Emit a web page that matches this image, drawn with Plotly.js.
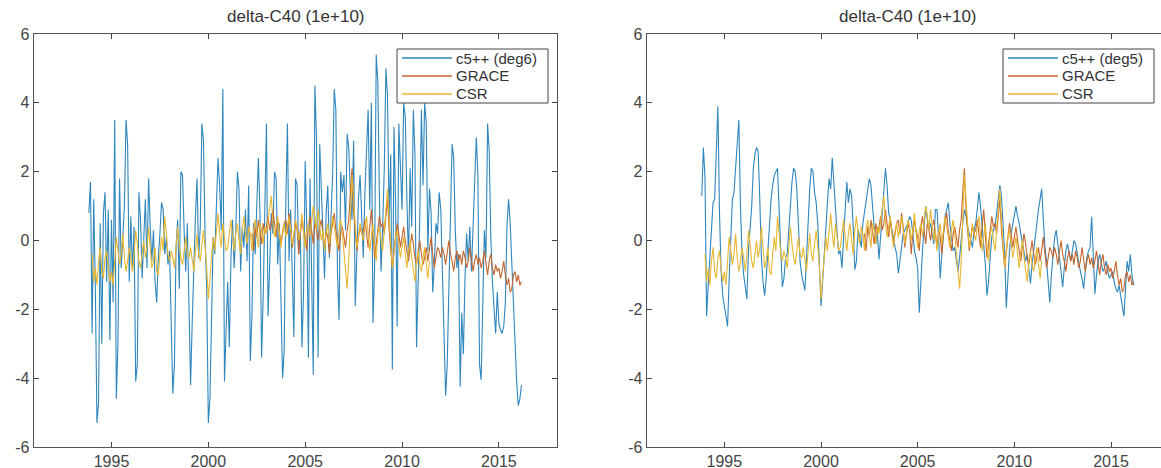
<!DOCTYPE html>
<html>
<head>
<meta charset="utf-8">
<script src="https://cdn.plot.ly/plotly-3.0.1.min.js"></script>
<style>
html,body{margin:0;padding:0;overflow:hidden;background:#fff;}
#chart{width:1180px;height:468px;}
</style>
</head>
<body>
<div id="chart"></div>
<script>
// ---- DATA (monthly values) ----
// c5++ series start: Nov 1993, end: Mar 2016
var c5Start = [1993, 11];
var c5deg6 = [
 0.8, 1.7,
 -2.7, 1.2, -1.4, -5.3, -4.7, 0.5, -3.0, 0.8, 1.4, -1.2, 0.9, -2.9,
 0.6, -1.8, 3.5, -4.6, -3.0, 1.8, -0.8, 0.3, 1.0, 3.5, 2.8, -1.2,
 0.7, -0.9, 0.4, -4.1, -3.6, 1.4, 0.6, -1.1, 0.2, 1.2, -0.8, 1.8,
 0.4, -0.6, 0.3, -1.2, -1.8, -0.5, 0.2, 1.1, 0.9, -0.4, 0.1, -0.7,
 -0.3, -2.4, -4.45, -3.6, -0.2, 0.6, -1.4, 2.0, 1.9, 0.3, -0.9, 0.5,
 -1.8, -4.2, -2.4, -0.6, 0.7, 1.8, -0.5, 0.4, 3.4, 2.9, 0.1, -1.4,
 -5.3, -4.6, -1.9, 0.1, -0.4, 0.8, 2.4, 1.6, 0.3, 4.4, -4.1, -2.6,
 -1.2, -3.1, -0.5, 0.6, -0.8, 0.3, 2.0, 1.5, -0.9, 0.4, -0.2, 0.9,
 -0.6, 1.6, -3.5, -2.2, 0.5, -0.4, 1.2, 2.4, 0.8, -3.4, -1.6, 0.7,
 3.4, -2.2, -0.9, 0.8, 0.2, 2.0, 1.8, -0.7, 0.5, -1.9, -4.0, -3.2,
 1.1, 3.4, -0.6, 0.9, -1.2, -2.8, 1.8, 1.6, -0.4, 0.3, -3.1, -1.5,
 2.3, 0.4, -3.4, 1.8, -1.0, -3.9, 4.5, 3.0, -3.4, 2.8, 1.5, 0.2,
 -1.1, 0.8, 1.6, -0.5, 0.6, 1.9, 4.4, 3.8, -0.9, -2.3, 2.0, 1.4,
 1.9, 0.3, 3.1, 2.7, 1.4, 0.6, 2.9, -1.9, -0.4, 1.2, 1.9, 0.8,
 -0.5, 1.4, 2.6, 3.8, 0.9, 4.0, -2.4, -0.8, 5.4, 4.6, 1.2, -0.9,
 0.4, 2.1, 5.0, 4.2, 0.6, 2.5, -3.75, 3.3, 1.1, -2.5, 3.4, 2.2,
 0.9, 4.0, 3.6, 1.2, -0.6, 2.1, 0.4, 3.8, 2.5, -3.1, -1.1, 0.7,
 3.8, 1.6, 4.0, 3.4, -0.3, 1.5, 0.8, -1.5, -0.7, 0.5, 0.2, 1.4,
 0.9, -1.2, -3.3, -4.5, -3.6, -0.9, 0.7, 2.8, 2.4, 0.3, -0.8, -0.4,
 -4.25, -2.1, -3.3, -1.1, 0.2, -0.6, 0.4, -0.9, 0.6, 2.1, 3.0, 1.9,
 -3.6, -4.05, -1.7, 0.3, -0.5, 3.4, 2.6, 0.1, -1.2, -2.0, -2.7, -1.5,
 -2.4, -2.6, -2.7, -2.5, -1.8, 0.4, 1.2, 0.5, -0.6, -1.9, -3.2, -4.1,
 -4.8, -4.6, -4.2
];
var c5deg5 = [
 1.3, 2.7,
 1.8, -2.2, -1.3, -0.4, 0.3, 1.1, 1.2, 2.7, 3.9, 0.8, -0.9, -1.6,
 -1.9, -2.2, -2.5, -1.1, 0.0, 1.2, 1.4, 2.1, 3.1, 3.5, 1.0, -0.4,
 -1.0, -1.4, -1.7, -0.3, 0.4, 1.0, 2.1, 2.5, 2.7, 2.6, 1.2, -0.5,
 -1.2, -1.6, -1.1, -0.2, 0.6, 1.2, 1.6, 1.9, 2.0, 2.1, 0.9, -0.3,
 -1.35, -1.1, -0.5, -0.4, 0.3, 1.1, 1.7, 2.1, 2.0, 1.5, 0.4, -0.6,
 -1.0, -1.2, -1.45, -0.5, 0.6, 1.5, 2.1, 2.0, 1.4, 1.1, 0.5, -0.8,
 -1.9, -1.2, -0.3, 0.5, 1.1, 1.8, 1.5, 2.4, 1.6, 0.9, 0.2, -0.4,
 -0.3, -0.8, 0.2, 0.9, 1.7, 1.1, 1.5, 1.3, 0.4, -0.85, -0.6, 0.3,
 0.1, -0.2, 0.5, 0.8, 1.2, 1.5, 1.8, 1.6, 0.9, 0.4, -0.1, 0.2,
 -0.55, 0.1, 0.8, 1.4, 2.1, 1.6, 0.8, 0.6, 0.3, 0.1, -0.2, -0.4,
 -0.95, -0.6, -0.1, 0.2, 0.3, 0.4, 0.5, 0.7, 0.6, 0.2, -0.3, -0.5,
 -0.8, -2.1, -1.0, -0.3, 0.4, 1.0, 0.6, 0.3, 0.5, 0.2, -0.1, 0.9,
 0.9, 0.1, -1.1, -0.4, 0.3, 0.7, 0.9, 1.1, 0.5, 0.1, -0.3, -0.2,
 -0.6, -0.9, -0.5, 0.1, 0.5, 0.9, 0.7, 0.4, 0.2, 0.0, -0.2, 0.3,
 0.5, 0.9, 1.4, 1.0, 0.4, -0.2, -0.7, -1.6, -1.2, -0.5, 0.1, 0.3,
 0.4, 0.8, 1.2, 1.6, 1.3, 0.6, -0.4, -1.95, -1.1, -0.3, 0.2, 0.5,
 0.8, 1.0, 0.7, 0.5, 0.2, -0.1, -0.3, -0.6, -0.4, -0.9, -1.25, -0.7,
 -0.3, 0.2, 0.5, 0.9, 1.2, 1.5, 0.6, -0.2, -0.6, -1.1, -1.8, -1.0,
 -0.4, 0.1, 0.3, -0.2, -0.5, -0.9, -1.35, -0.8, -0.3, -0.1, -0.4, -0.6,
 -0.3, 0.0, -0.1, -0.4, -0.6, -0.9, -1.1, -1.4, -0.9, -0.5, -0.3, -0.2,
 0.7, -0.6, -1.55, -1.0, -0.6, -0.4, -0.7, -0.9, -0.8, -0.6, -0.9, -1.1,
 -1.0, -0.9, -1.2, -1.4, -1.5, -1.3, -1.6, -1.9, -2.2, -1.4, -0.6, -0.9,
 -0.4, -1.0, -1.3
];
// GRACE start: Apr 2002
var graceStart = [2002, 4];
var grace = [
 0.2, -0.3, 0.4, 0.1, 0.6, 0.3, -0.1, 0.5, 0.2,
 0.4, 0.7, 0.3, 0.5, 0.9, 0.4, 0.1, 0.6, 0.3, -0.1, 0.2, 0.5,
 0.6, 0.2, 0.8, 0.4, -0.2, 0.1, 0.5, 0.3, -0.4, 0.2, 0.6, 0.3,
 0.1, -0.3, 0.4, 0.7, 0.2, -0.1, 0.5, 0.3, 0.0, 0.4, 0.6, 0.2,
 -0.2, 0.3, 0.1, -0.4, 0.2, 0.5, 0.8, 0.3, 0.0, -0.3, 0.2, 0.4,
 0.1, -0.2, 0.3, 0.6, 1.4, 2.1, 0.9, 0.2, -0.3, 0.1, 0.4, 0.2,
 0.3, 0.6, 0.1, -0.2, 0.4, 0.9, 0.2, -0.5, -0.1, 0.3, 0.7, 0.4,
 0.5, 0.2, 0.8, 1.2, 0.3, -0.4, -0.8, -0.3, 0.1, 0.5, 0.2, -0.2,
 0.1, 0.4, 0.0, -0.3, -0.6, -0.2, 0.2, -0.1, -0.5, -0.7, -0.3, 0.0,
 -0.4, -0.7, -0.5, -0.2, -0.6, -0.3, 0.1, -0.4, -0.8, -0.5, -0.2, -0.3,
 -0.5, -0.2, -0.4, -0.7, -0.3, 0.0, -0.4, -0.6, -0.9, -0.5, -0.3, -0.6,
 -0.4, -0.7, -0.3, -0.5, -0.8, -0.6, -0.2, -0.5, -0.9, -0.6, -0.4, -0.7,
 -0.5, -0.8, -0.6, -0.3, -0.7, -1.0, -0.6, -0.4, -0.8, -1.0, -0.7, -0.9,
 -0.8, -1.1, -0.9, -0.6, -1.0, -1.3, -1.1, -1.5, -1.4, -1.0, -0.9, -1.2,
 -1.0, -1.3, -1.2
];
// CSR start: Jan 1994
var csrStart = [1994, 1];
var csr = [
 -0.4, -1.2, -0.8, -1.3, -0.6, -0.2, -0.9, -1.1, -0.5, -0.3, -0.8, -1.2,
 -0.9, -1.3, -0.6, 0.1, -0.3, -0.7, -0.4, 0.2, -0.5, -0.9, -0.6, -0.2,
 -0.5, -0.9, -0.4, 0.3, -0.1, -0.6, -0.8, -0.3, 0.0, -0.5, -0.2, 0.4,
 -0.3, -0.8, -0.6, -0.2, -0.9, -1.0, -0.4, 0.1, -0.3, 0.7, 0.2, -0.4,
 -0.6, -0.3, -0.5, -0.8, -0.2, 0.4, -0.1, -0.5, -0.7, -0.3, 0.1, -0.4,
 -0.5, -0.2, -0.6, -0.9, -0.3, 0.2, -0.4, -0.6, -0.1, 0.3, -0.2, -0.8,
 -1.7, -1.1, -0.4, 0.1, -0.3, 0.4, 0.8, 0.2, -0.2, 0.5, 0.1, -0.3,
 -0.2, 0.3, 0.6, 0.1, -0.3, 0.2, 0.5, 0.0, -0.4, 0.3, 0.7, 0.2,
 -0.1, 0.4, 0.2, -0.3, 0.3, 0.6, 0.1, -0.2, 0.5, 0.3, -0.1, 0.4,
 0.2, 0.6, 0.9, 1.3, 0.5, 0.1, 0.4, 0.7, 0.2, -0.2, 0.3, 0.5,
 0.1, 0.4, 0.7, 0.3, -0.1, 0.2, 0.6, 0.4, 0.0, 0.3, 0.8, 0.2,
 -0.2, 0.3, 0.5, 0.1, 0.6, 1.0, 0.7, 0.3, 0.9, 0.4, 0.0, 0.3,
 -0.3, 0.2, 0.5, -0.1, 0.3, 0.7, 0.4, 0.1, -0.2, 0.3, 0.6, 0.2,
 -0.4, -1.0, -1.4, -0.6, 0.8, 1.9, 1.2, 0.3, -0.2, 0.1, 0.5, 0.2,
 0.0, 0.4, 0.7, 0.2, -0.3, 0.1, 0.5, -0.2, -0.6, 0.2, 0.4, 0.0,
 -0.3, 0.3, 0.9, 1.5, 0.6, -0.2, -0.8, -0.4, 0.1, 0.3, -0.2, -0.5,
 -0.2, 0.1, -0.4, -0.8, -0.3, 0.0, -0.5, -0.9, -1.2, -0.6, -0.3, -0.7,
 -0.9, -0.5, -0.2, -0.7, -1.1, -0.6
];
var panelTitles = ['delta-C40 (1e+10)', 'delta-C40 (1e+10)'];
var seriesNames = [['c5++ (deg6)', 'GRACE', 'CSR'], ['c5++ (deg5)', 'GRACE', 'CSR']];
var xTicks = [1995, 2000, 2005, 2010, 2015];
var yTicks = [-6, -4, -2, 0, 2, 4, 6];
var yTickText = ['-6', '-4', '-2', '0', '2', '4', '6'];

// ---- helpers ----
function monthTimes(start, n) {
  var t = [];
  for (var i = 0; i < n; i++) t.push(start[0] + (start[1] - 1 + i) / 12);
  return t;
}

var W = 1180, H = 468;
var colors = ['#2f86bd', '#c4662f', '#e8b832'];
var fontFam = 'Liberation Sans, Arial, sans-serif';
var txtCol = '#454545';

var traces = [];
var panels = [
  {c5: c5deg6, xa: 'x', ya: 'y'},
  {c5: c5deg5, xa: 'x2', ya: 'y2'}
];
panels.forEach(function (p, k) {
  var sets = [[c5Start, p.c5], [graceStart, grace], [csrStart, csr]];
  sets.forEach(function (s, j) {
    traces.push({
      type: 'scatter', mode: 'lines',
      x: monthTimes(s[0], s[1].length), y: s[1],
      name: seriesNames[k][j],
      xaxis: p.xa, yaxis: p.ya, showlegend: false,
      line: {color: colors[j], width: 1.1},
      hoverinfo: 'skip'
    });
  });
});

function px(x) { return x / W; }
function py(y) { return 1 - y / H; }

var dom1 = [px(34), px(557)], dom2 = [px(647), px(1169)];
var ydom = [py(447), py(34)];

function xaxis(dom, anchor) {
  return {
    domain: dom, anchor: anchor, range: [1991, 2018],
    tickvals: xTicks, ticktext: xTicks.map(String),
    ticks: 'inside', ticklen: 5, tickcolor: '#444', tickwidth: 1,
    showline: true, linecolor: '#555', linewidth: 1.3, mirror: 'ticks',
    showgrid: false, zeroline: false, automargin: false,
    ticklabelstandoff: -1,
    tickfont: {family: fontFam, size: 16, color: txtCol}
  };
}
function yaxis(anchor) {
  return {
    domain: ydom, anchor: anchor, range: [-6, 6],
    tickvals: yTicks, ticktext: yTickText,
    ticks: 'inside', ticklen: 5, tickcolor: '#444', tickwidth: 1,
    showline: true, linecolor: '#555', linewidth: 1.3, mirror: 'ticks',
    showgrid: false, zeroline: false, automargin: false,
    tickfont: {family: fontFam, size: 16, color: txtCol}
  };
}

// ---- legend boxes drawn as shapes + text (pixel positions) ----
var shapes = [], annotations = [];
function addLegend(left, names) {
  var right = left + 151, top = 49, bottom = 103;
  shapes.push({type: 'rect', xref: 'paper', yref: 'paper',
    x0: px(left), x1: px(right), y0: py(bottom), y1: py(top),
    line: {color: '#444', width: 1}, fillcolor: '#fff', layer: 'above'});
  names.forEach(function (nm, j) {
    var yc = top + 9 + j * 18;
    shapes.push({type: 'line', xref: 'paper', yref: 'paper',
      x0: px(left + 5), x1: px(left + 55), y0: py(yc), y1: py(yc),
      line: {color: colors[j], width: 1.3}, layer: 'above'});
    annotations.push({text: nm, xref: 'paper', yref: 'paper',
      x: px(left + 57), y: py(yc), xanchor: 'left', yanchor: 'middle',
      showarrow: false, font: {family: fontFam, size: 15, color: '#333'}});
  });
}
addLegend(397, seriesNames[0]);
addLegend(1003, seriesNames[1]);

annotations.push(
  {text: panelTitles[0], xref: 'paper', yref: 'paper', x: (dom1[0] + dom1[1]) / 2, y: py(17),
   xanchor: 'center', yanchor: 'middle', showarrow: false, font: {family: fontFam, size: 17, color: '#333'}},
  {text: panelTitles[1], xref: 'paper', yref: 'paper', x: (dom2[0] + dom2[1]) / 2, y: py(17),
   xanchor: 'center', yanchor: 'middle', showarrow: false, font: {family: fontFam, size: 17, color: '#333'}}
);

var layout = {
  width: W, height: H,
  margin: {l: 0, r: 0, t: 0, b: 0},
  paper_bgcolor: '#fff', plot_bgcolor: '#fff',
  showlegend: false,
  xaxis: xaxis(dom1, 'y'), yaxis: yaxis('x'),
  xaxis2: xaxis(dom2, 'y2'), yaxis2: yaxis('x2'),
  shapes: shapes,
  annotations: annotations
};

Plotly.newPlot('chart', traces, layout, {staticPlot: true, displayModeBar: false});
</script>
</body>
</html>
